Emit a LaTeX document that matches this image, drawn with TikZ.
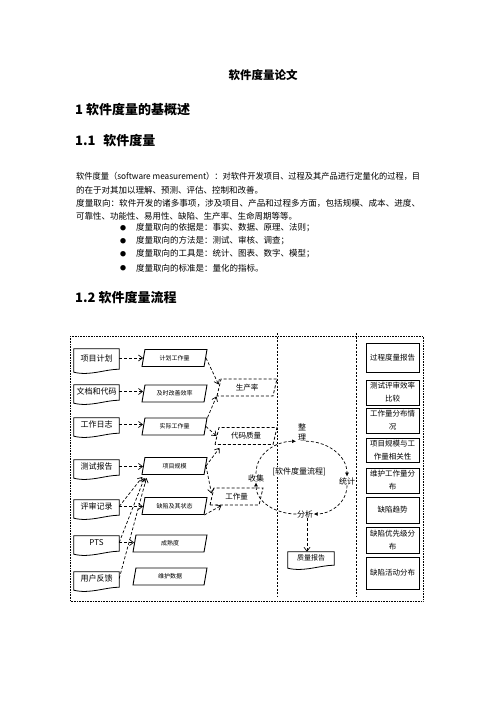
\documentclass[tikz,border=0pt]{standalone}
\usepackage{graphicx}
\usepackage{fontspec}
\setmainfont{Noto Sans CJK SC}
\usetikzlibrary{arrows.meta,shapes.geometric,calc}
\newcommand\fullline[1]{\resizebox{344pt}{\height}{#1}}
\begin{document}
\begin{tikzpicture}[x=1pt,y=-1pt,>=Latex,
  srcdoc/.style={minimum width=45pt,minimum height=13pt,inner sep=0pt,font=\fontsize{8}{8}\selectfont},
  docline/.style={line width=0.8pt},
  datapar/.style={trapezium,trapezium left angle=62,trapezium right angle=118,trapezium stretches body,draw,line width=0.9pt,minimum width=65pt,minimum height=17pt,inner sep=0pt,font=\fontsize{6}{6}\selectfont},
  metricpar/.style={trapezium,trapezium left angle=60,trapezium right angle=120,trapezium stretches body,draw,dash pattern=on 3pt off 2pt,line width=0.8pt,minimum height=17pt,inner sep=0pt,font=\fontsize{7.5}{7.5}\selectfont},
  reportbox/.style={draw,line width=0.8pt,minimum width=53pt,inner sep=0pt,align=center,font=\fontsize{7.5}{13}\selectfont},
  flow/.style={dash pattern=on 3pt off 2pt,line width=0.7pt,-{Straight Barb[length=4pt,width=6pt]}},
  cyc/.style={dash pattern=on 3pt off 2pt,line width=0.7pt,-{Latex[length=4pt,width=4pt]}},
  steplabel/.style={fill=white,inner sep=0.5pt,font=\fontsize{8}{10}\selectfont},
  bodytext/.style={anchor=west,inner sep=0pt,font=\fontsize{8.5}{8.5}\selectfont},
  headtext/.style={anchor=west,inner sep=0pt,font=\fontsize{13}{13}\selectfont\bfseries}]
\fill[white] (0,0) rectangle (496,702);
\useasboundingbox (0,0) rectangle (496,702);

\node[inner sep=0pt,font=\fontsize{11.5}{11.5}\selectfont\bfseries] (ttl) at (263,75) {软件度量论文};
\node[headtext] (hone) at (75,110) {1 软件度量的基概述};
\node[headtext] (honeone) at (75,141) {1.1\hspace{0.6em}软件度量};
\node[bodytext] (lineA) at (76,176) {\fullline{软件度量（software measurement）：对软件开发项目、过程及其产品进行定量化的过程，目}};
\node[bodytext] (lineB) at (76,190) {的在于对其加以理解、预测、评估、控制和改善。};
\node[bodytext] (lineC) at (76,203) {\fullline{度量取向：软件开发的诸多事项，涉及项目、产品和过程多方面，包括规模、成本、进度、}};
\node[bodytext] (lineD) at (76,216) {可靠性、功能性、易用性、缺陷、生产率、生命周期等等。};
\foreach \y/\t [count=\i] in {228/度量取向的依据是：事实、数据、原理、法则；,241/度量取向的方法是：测试、审核、调查；,254/度量取向的工具是：统计、图表、数字、模型；,268/度量取向的标准是：量化的指标。}{
  \node[inner sep=0pt,font=\fontsize{6}{6}\selectfont] (dot\i) at (123,\y) {●};
  \node[bodytext] (item\i) at (136,\y) {\t};
}
\node[headtext] (honetwo) at (75,298) {1.2 软件度量流程};

\draw[line width=0.6pt,dash pattern=on 0.8pt off 0.8pt] (70,336) rectangle (423,601);
\draw[line width=0.6pt,dash pattern=on 2pt off 1.5pt] (277,333) -- (277,597);
\draw[line width=0.6pt,dash pattern=on 2pt off 1.5pt] (356,333) -- (356,597);

\node[srcdoc,minimum height=18pt] (xmjh) at (96.5,358) {项目计划};
\node[srcdoc] (wddm) at (96.5,391.5) {文档和代码};
\node[srcdoc] (gzrz) at (96.5,424.5) {工作日志};
\node[srcdoc] (csbg) at (96.5,466.5) {测试报告};
\node[srcdoc] (psjl) at (96.5,506.5) {评审记录};
\node[srcdoc] (pts) at (96.5,542.5) {PTS};
\node[srcdoc] (yhfk) at (96.5,578.5) {用户反馈};
\node[srcdoc,minimum width=46pt,minimum height=11pt,font=\fontsize{7}{7}\selectfont] (zlbg) at (311,557.5) {质量报告};
\foreach \n in {xmjh,wddm,gzrz,csbg,psjl,pts,yhfk,zlbg}
  \draw[docline] (\n.north west) -- (\n.north east) -- ([yshift=-2pt]\n.south east)
    .. controls ([xshift=-14pt,yshift=-2pt]\n.south east) and ([xshift=16pt,yshift=-9pt]\n.south west) .. ([yshift=-5pt]\n.south west) -- cycle;

\node[datapar] (jhgzl) at (174.5,358) {计划工作量};
\node[datapar] (jsgs) at (174.5,393.5) {及时改善效率};
\node[datapar] (sjgzl) at (174.5,426.5) {实际工作量};
\node[datapar] (xmgm) at (174.5,466) {项目规模};
\node[datapar] (qxzt) at (174.5,506) {缺陷及其状态};
\node[datapar,minimum width=74pt] (csd) at (170,543.5) {成熟度};
\node[datapar,minimum width=74pt] (whsj) at (170,576.5) {维护数据};

\node[metricpar,minimum width=60pt] (scl) at (247,387.5) {生产率};
\node[metricpar,minimum width=62pt] (dmzl) at (246,436) {代码质量};
\node[metricpar,minimum width=53pt] (gzl) at (236.5,496.5) {工作量};

\node[reportbox,minimum height=29pt] (gcbg) at (392.5,357.5) {过程度量报告};
\node[reportbox,minimum height=25pt] (psxl) at (392.5,392.5) {测试评审效率\\比较};
\node[reportbox,minimum height=25pt] (gzfb) at (392.5,420.5) {工作量分布情\\况};
\node[reportbox,minimum height=24pt] (gmxg) at (392.5,450) {项目规模与工\\作量相关性};
\node[reportbox,minimum height=25pt] (whfb) at (392.5,480.5) {维护工作量分\\布};
\node[reportbox,minimum height=26pt] (qxqs) at (392.5,510) {缺陷趋势};
\node[reportbox,minimum height=26pt] (yxfb) at (392.5,540) {缺陷优先级分\\布};
\node[reportbox,minimum height=32pt] (hdfb) at (392.5,573) {缺陷活动分布};

\node[font=\fontsize{8}{8}\selectfont,fill=white,inner sep=0.5pt] (lcname) at (299,472) {[软件度量流程]};
\node[steplabel,align=center] (zl) at (302,432) {整\\理};
\node[steplabel] (tj) at (347,481) {统计};
\node[steplabel] (fx) at (305,514) {分析};
\node[steplabel] (sj) at (256,478) {收集};

\draw[cyc] (sj.north) to[out=90,in=180] ([xshift=-6pt]zl.south);
\draw[cyc] ([xshift=4pt]zl.south) to[out=0,in=90] (tj.north);
\draw[cyc] (tj.south) to[out=-90,in=0] (fx.east);
\draw[cyc] (fx.west) to[out=180,in=-90] (sj.south);
\draw[flow] ([xshift=2pt]fx.south) -- ([xshift=2pt]fx.south |- zlbg.north);

\draw[flow] (xmjh.east) -- (xmjh.east -| jhgzl.west);
\draw[flow] (wddm.east) -- (wddm.east -| jsgs.west);
\draw[flow] (gzrz.east) -- (gzrz.east -| sjgzl.west);
\draw[flow] (csbg.east) -- (csbg.east -| xmgm.west);
\draw[flow] (psjl.east) -- (psjl.east -| qxzt.west);
\draw[flow] (pts.east) -- (pts.east -| csd.west);
\draw[flow] (jhgzl.east) -- ([yshift=3pt]scl.west);
\draw[flow] (sjgzl.top right corner) -- (scl.bottom left corner);
\draw[flow] (sjgzl.east) -- (dmzl.west);
\draw[flow] (xmgm.east) -- ([xshift=5pt,yshift=-3pt]dmzl.bottom left corner);
\draw[flow] (xmgm.east) -- ([yshift=3pt]gzl.west);
\draw[flow] (qxzt.bottom right corner) -- ([xshift=12pt]gzl.bottom left corner);
\draw[flow] (psjl.east) -- ([xshift=1pt,yshift=-2pt]xmgm.bottom left corner);
\draw[flow] (pts.east) -- ([xshift=3pt,yshift=-3pt]xmgm.bottom left corner);
\draw[flow] (yhfk.east) -- ([xshift=5pt,yshift=-3pt]xmgm.bottom left corner);
\end{tikzpicture}
\end{document}
